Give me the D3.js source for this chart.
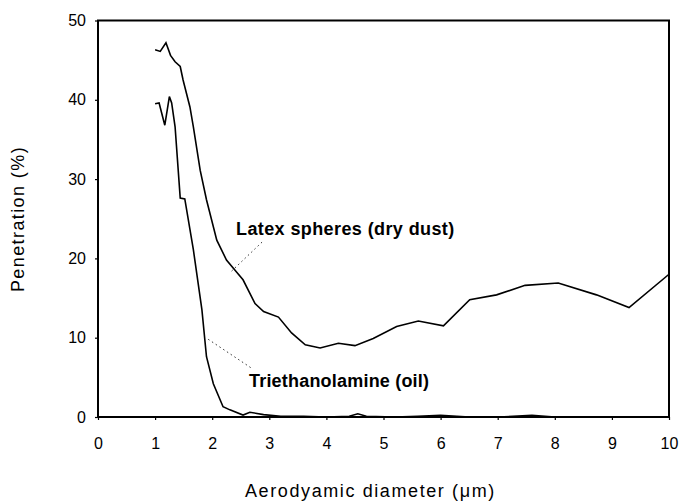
<!DOCTYPE html>
<html>
<head>
<meta charset="utf-8">
<script src="https://cdn.jsdelivr.net/npm/d3@7"></script>
<style>
  body { margin: 0; background: #fff; }
  text { font-family: "Liberation Sans", Arial, sans-serif; fill: #000; }
</style>
</head>
<body>
<div id="chart"></div>
<script>
// penetration vs aerodynamic diameter, two test aerosols
var latexX = [1.0, 1.09, 1.19, 1.27, 1.35, 1.44, 1.49, 1.61, 1.67, 1.79, 1.90, 2.08, 2.25, 2.4, 2.54, 2.75, 2.9, 3.16, 3.39, 3.63, 3.89, 4.21, 4.5, 4.82, 5.23, 5.61, 6.05, 6.51, 6.98, 7.48, 8.06, 8.73, 9.3, 10.0];
var latexY = [46.3, 46.1, 47.2, 45.6, 44.8, 44.2, 42.5, 39.1, 36.6, 31.1, 27.4, 22.3, 19.8, 18.5, 17.3, 14.3, 13.3, 12.6, 10.6, 9.1, 8.7, 9.3, 9.0, 9.9, 11.4, 12.1, 11.5, 14.8, 15.4, 16.6, 16.9, 15.4, 13.8, 18.0];

var oilX = [1.0, 1.07, 1.17, 1.25, 1.29, 1.35, 1.44, 1.52, 1.67, 1.82, 1.90, 2.02, 2.19, 2.31, 2.54, 2.66, 2.9, 3.2, 3.6, 4.0, 4.4, 4.55, 4.7, 5.2, 5.6, 6.0, 6.5, 7.0, 7.6, 8.0, 9.0, 10.0];
var oilY = [39.5, 39.6, 36.8, 40.4, 39.6, 36.6, 27.6, 27.5, 21.1, 13.5, 7.6, 4.2, 1.3, 0.9, 0.25, 0.6, 0.3, 0.1, 0.1, 0.0, 0.1, 0.4, 0.1, 0.0, 0.1, 0.2, 0.0, 0.0, 0.2, 0.0, 0.0, 0.0];

var xTicks = [0, 1, 2, 3, 4, 5, 6, 7, 8, 9, 10];
var yTicks = [0, 10, 20, 30, 40, 50];

var width = 679;
var height = 501;
var margin = {left: 98, right: 10, top: 20.5, bottom: 84};

var svg = d3.select('#chart').append('svg')
      .attr('width', width)
      .attr('height', height)

var xScale = d3.scaleLinear()
      .domain([0, 10])
      .range([margin.left, width - margin.right])

var yScale = d3.scaleLinear()
      .domain([0, 50])
      .range([height - margin.bottom, margin.top])

// axes, short outward ticks
var xAxis = d3.axisBottom(xScale)
      .tickValues(xTicks)
      .tickSize(3)
      .tickPadding(18)
      .tickFormat(d3.format('d'))

var yAxis = d3.axisLeft(yScale)
      .tickValues(yTicks)
      .tickSize(3)
      .tickPadding(9)

var gx = svg.append('g')
      .attr('transform', 'translate(0,' + yScale(0) + ')')
      .call(xAxis)
var gy = svg.append('g')
      .attr('transform', 'translate(' + xScale(0) + ',0)')
      .call(yAxis)

svg.selectAll('.domain').remove();
svg.selectAll('.tick line').attr('stroke', '#000').attr('stroke-width', 1.2);
svg.selectAll('.tick text')
      .style('font-size', '16px')
      .style('font-family', '"Liberation Sans", Arial, sans-serif')
      .attr('fill', '#000');

// frame round the plot
svg.append('rect')
      .attr('x', xScale(0))
      .attr('y', yScale(50))
      .attr('width', xScale(10) - xScale(0))
      .attr('height', yScale(0) - yScale(50))
      .attr('fill', 'none')
      .attr('stroke', '#000')
      .attr('stroke-width', 2)

var line = d3.line()
      .x(d => xScale(d[0]))
      .y(d => yScale(d[1]))

svg.append('path')
      .datum(d3.zip(latexX, latexY))
      .attr('d', line)
      .attr('fill', 'none')
      .attr('stroke', '#000')
      .attr('stroke-width', 1.6)

svg.append('path')
      .datum(d3.zip(oilX, oilY))
      .attr('d', line)
      .attr('fill', 'none')
      .attr('stroke', '#000')
      .attr('stroke-width', 1.6)

// labels with dotted leader lines
svg.append('line')
      .attr('x1', xScale(2.34)).attr('y1', yScale(18.4))
      .attr('x2', xScale(2.88)).attr('y2', yScale(22.1))
      .attr('stroke', '#000').attr('stroke-width', 0.8)
      .attr('stroke-dasharray', '1.5,3')

svg.append('line')
      .attr('x1', xScale(1.93)).attr('y1', yScale(9.8))
      .attr('x2', xScale(2.68)).attr('y2', yScale(6.2))
      .attr('stroke', '#000').attr('stroke-width', 0.8)
      .attr('stroke-dasharray', '1.5,3')

svg.append('text')
      .attr('x', 236)
      .attr('y', 235)
      .style('font-size', '18px')
      .style('font-weight', 'bold')
      .style('letter-spacing', '0.4px')
      .text('Latex spheres (dry dust)')

svg.append('text')
      .attr('x', 249)
      .attr('y', 387)
      .style('font-size', '18px')
      .style('font-weight', 'bold')
      .style('letter-spacing', '0.2px')
      .text('Triethanolamine (oil)')

svg.append('text')
      .attr('x', 245)
      .attr('y', 497)
      .style('font-size', '18px')
      .style('letter-spacing', '1.6px')
      .text('Aerodyamic diameter (\u03bcm)')

svg.append('text')
      .attr('transform', 'rotate(-90)')
      .attr('x', -219)
      .attr('y', 24)
      .style('text-anchor', 'middle')
      .style('font-size', '18px')
      .style('letter-spacing', '1.4px')
      .text('Penetration (%)')
</script>
</body>
</html>
